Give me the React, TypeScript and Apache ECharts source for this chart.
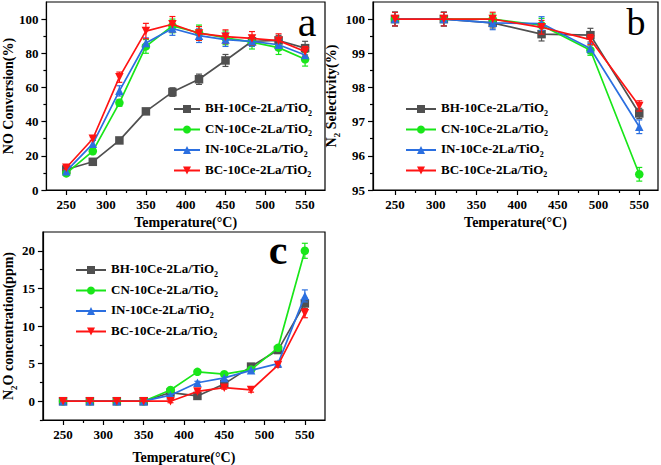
import React, { useEffect, useRef } from 'react';
import * as echarts from 'echarts';

// ---------------- data ----------------
const NAMES = ['BH-10Ce-2La/TiO2', 'CN-10Ce-2La/TiO2', 'IN-10Ce-2La/TiO2', 'BC-10Ce-2La/TiO2'];

const TEMP_AC = [250, 283.3, 316.7, 350, 383.3, 416.7, 450, 483.3, 516.7, 550];
const TEMP_B = [250, 310, 370, 430, 490, 550];
const TEMP_TICKS = [250, 300, 350, 400, 450, 500, 550];
const TEMP_MINOR = [275, 325, 375, 425, 475, 525];

// panel a: NO conversion (%)
const NO_BH = [12, 16.5, 29, 46, 57.3, 64.8, 75.8, 87, 87.5, 83];
const NO_CN = [9.7, 22.7, 51, 84, 96, 92, 89, 86.5, 83.3, 76.5];
const NO_IN = [11, 27, 58, 86, 94.5, 90.3, 88, 87, 85, 79];
const NO_BC = [13, 30, 66, 93, 97, 91.6, 89.7, 88.7, 87.4, 81];
const NO_BH_ERR = [1, 1, 1, 1.5, 2.5, 3, 3.5, 3, 3, 4];
const NO_CN_ERR = [1, 1.5, 2, 4, 4, 4.5, 4, 4, 4, 4];
const NO_IN_ERR = [1, 2, 3, 3, 4, 4, 4, 3, 3, 3];
const NO_BC_ERR = [1, 1, 3, 4.5, 4.5, 4, 4, 4, 4, 3];
const NO_TICKS = [0, 20, 40, 60, 80, 100];
const NO_MINOR = [10, 30, 50, 70, 90];

// panel b: N2 selectivity (%)
const SEL_BH = [100, 100, 99.89, 99.56, 99.53, 97.24];
const SEL_CN = [100, 100, 100, 99.82, 99.09, 95.46];
const SEL_IN = [100, 100, 99.89, 99.87, 99.14, 96.85];
const SEL_BC = [100, 100, 100, 99.76, 99.4, 97.46];
const SEL_BH_ERR = [0.2, 0.2, 0.15, 0.2, 0.2, 0.15];
const SEL_CN_ERR = [0.2, 0.2, 0.15, 0.2, 0.15, 0.2];
const SEL_IN_ERR = [0.2, 0.2, 0.2, 0.2, 0.15, 0.2];
const SEL_BC_ERR = [0.2, 0.2, 0.2, 0.2, 0.15, 0.15];
const SEL_TICKS = [95, 96, 97, 98, 99, 100];
const SEL_MINOR = [95.5, 96.5, 97.5, 98.5, 99.5];

// panel c: N2O concentration (ppm)
const N2O_BH = [0, 0, 0, 0, 1.15, 0.7, 2.3, 4.6, 6.8, 13];
const N2O_CN = [0, 0, 0, 0, 1.5, 3.9, 3.6, 4.2, 7.1, 20];
const N2O_IN = [0, 0, 0, 0, 0.8, 2.45, 3.1, 4.1, 5, 14];
const N2O_BC = [0, 0, 0, 0, 0, 1.3, 1.8, 1.5, 4.8, 11.7];
const N2O_BH_ERR = [0.1, 0.1, 0.1, 0.1, 0.2, 0.2, 0.2, 0.3, 0.3, 0.7];
const N2O_CN_ERR = [0.1, 0.1, 0.1, 0.1, 0.2, 0.2, 0.2, 0.3, 0.3, 1];
const N2O_IN_ERR = [0.1, 0.1, 0.1, 0.1, 0.2, 0.2, 0.2, 0.3, 0.3, 0.8];
const N2O_BC_ERR = [0.1, 0.1, 0.1, 0.1, 0.2, 0.2, 0.2, 0.3, 0.3, 0.6];
const N2O_TICKS = [0, 5, 10, 15, 20];
const N2O_MINOR = [-2.5, 2.5, 7.5, 12.5, 17.5];

// ---------------- styles ----------------
const COLORS = ['#505050', '#19e619', '#2b6fe0', '#ff1414'];
const SYMBOLS = ['rect', 'circle', 'triangle', 'triangle'];
const ROTATES = [0, 0, 0, 180];
const FONT = 'Liberation Serif';

function makeRich(size: number, sub: number, drop: number) {
  return {
    m: { fontFamily: FONT, fontWeight: 'bold', fontSize: size, color: '#000', padding: [0, 0, drop, 0], verticalAlign: 'bottom' },
    s: { fontFamily: FONT, fontWeight: 'bold', fontSize: sub, color: '#000', verticalAlign: 'bottom' },
  };
}

const labelStyle = { fontFamily: FONT, fontWeight: 'bold', fontSize: 13, color: '#000' };
const nameStyle = { fontFamily: FONT, fontWeight: 'bold', fontSize: 14, color: '#000', rich: makeRich(14, 9, 3) };

function xAxes(grid: number, min: number, max: number, nameGap: number) {
  return [
    {
      type: 'value', gridIndex: grid, min, max, position: 'bottom',
      name: 'Temperature(°C)', nameLocation: 'middle', nameGap, nameTextStyle: nameStyle,
      axisLine: { show: true, onZero: false, lineStyle: { color: '#000', width: 1.2 } },
      axisTick: { show: true, length: 5, customValues: TEMP_TICKS, lineStyle: { color: '#000', width: 1.2 } },
      axisLabel: { customValues: TEMP_TICKS, margin: 8, ...labelStyle },
      splitLine: { show: false },
    },
    {
      type: 'value', gridIndex: grid, min, max, position: 'bottom', offset: 0,
      axisLine: { show: false, onZero: false },
      axisTick: { show: true, length: 3, customValues: TEMP_MINOR, lineStyle: { color: '#000', width: 1.2 } },
      axisLabel: { show: false },
      splitLine: { show: false },
    },
  ];
}

function yAxes(grid: number, min: number, max: number, ticks: number[], minor: number[], name: string, nameGap: number) {
  return [
    {
      type: 'value', gridIndex: grid, min, max, position: 'left',
      name, nameLocation: 'middle', nameGap, nameTextStyle: nameStyle,
      axisLine: { show: true, onZero: false, lineStyle: { color: '#000', width: 1.2 } },
      axisTick: { show: true, length: 5, customValues: ticks, lineStyle: { color: '#000', width: 1.2 } },
      axisLabel: { customValues: ticks, margin: 8, ...labelStyle },
      splitLine: { show: false },
    },
    {
      type: 'value', gridIndex: grid, min, max, position: 'left', offset: 0,
      axisLine: { show: false, onZero: false },
      axisTick: { show: true, length: 3, customValues: minor, lineStyle: { color: '#000', width: 1.2 } },
      axisLabel: { show: false },
      splitLine: { show: false },
    },
  ];
}

function zip(xs: number[], ys: number[]) {
  return xs.map((x, i) => [x, ys[i]]);
}
function zip3(xs: number[], ys: number[], es: number[]) {
  return xs.map((x, i) => [x, ys[i], es[i]]);
}

function panelSeries(axisIdx: number, xs: number[], ys: number[][], errs: number[][]) {
  const out: any[] = [];
  ys.forEach((y, k) => {
    const color = COLORS[k];
    out.push({
      type: 'custom', name: NAMES[k] + ' err', xAxisIndex: axisIdx, yAxisIndex: axisIdx,
      data: zip3(xs, y, errs[k]), encode: { x: 0, y: 1 }, z: 2 + k,
      renderItem: (params: any, api: any) => {
        const x = api.value(0), v = api.value(1), e = api.value(2);
        const top = api.coord([x, v + e]);
        const bot = api.coord([x, v - e]);
        const w = 3;
        const st = { stroke: color, lineWidth: 1.2 };
        return {
          type: 'group', children: [
            { type: 'line', shape: { x1: top[0], y1: top[1], x2: bot[0], y2: bot[1] }, style: st },
            { type: 'line', shape: { x1: top[0] - w, y1: top[1], x2: top[0] + w, y2: top[1] }, style: st },
            { type: 'line', shape: { x1: bot[0] - w, y1: bot[1], x2: bot[0] + w, y2: bot[1] }, style: st },
          ],
        };
      },
    });
    out.push({
      type: 'line', name: NAMES[k], xAxisIndex: axisIdx, yAxisIndex: axisIdx,
      data: zip(xs, y), symbol: SYMBOLS[k], symbolRotate: ROTATES[k], symbolSize: 8.5, z: 3 + k,
      lineStyle: { color, width: 1.7 }, itemStyle: { color },
    });
  });
  return out;
}

function legend(left: number, top: number, itemWidth: number) {
  return {
    orient: 'vertical', left, top, itemWidth, itemHeight: 10, itemGap: 4.5, padding: 0,
    selectedMode: false, data: NAMES,
    formatter: (n: string) => `{m|${n.slice(0, -1)}}{s|2}`,
    textStyle: { fontFamily: FONT, fontWeight: 'bold', fontSize: 13, color: '#000', rich: makeRich(13, 8, 3) },
  };
}

export default function App() {
  const ref = useRef<HTMLDivElement>(null);
  useEffect(() => {
    if (!ref.current) return;
    const chart = echarts.init(ref.current, null, { renderer: 'svg' });
    const gridStyle = { show: true, borderColor: '#000', borderWidth: 1.2, containLabel: false };
    chart.setOption({
      animation: false,
      backgroundColor: '#fff',
      textStyle: { fontFamily: FONT },
      grid: [
        { left: 41, top: 2, width: 284, height: 188, ...gridStyle },
        { left: 373, top: 2, width: 285, height: 188, ...gridStyle },
        { left: 41, top: 232, width: 284, height: 189, ...gridStyle },
      ],
      xAxis: [
        ...xAxes(0, 225, 575, 25),
        ...xAxes(1, 223, 573, 25),
        ...xAxes(2, 225, 575, 30),
      ],
      yAxis: [
        ...yAxes(0, 0, 110, NO_TICKS, NO_MINOR, '{m|NO Conversion(%)}', 15),
        ...yAxes(1, 95, 100.5, SEL_TICKS, SEL_MINOR, '{m|N}{s|2}{m| Selectivity(%)}', 23),
        ...yAxes(2, -2.5, 22.5, N2O_TICKS, N2O_MINOR, '{m|N}{s|2}{m|O concentration(ppm)}', 17),
      ],
      legend: [legend(173, 101, 26), legend(405, 101, 30), legend(75, 262, 30)],
      graphic: [
        { type: 'text', style: { text: 'a', x: 307, y: 22, fontFamily: FONT, fontSize: 42, textAlign: 'center', textVerticalAlign: 'middle', fill: '#000' } },
        { type: 'text', style: { text: 'b', x: 636, y: 22, fontFamily: FONT, fontSize: 38, textAlign: 'center', textVerticalAlign: 'middle', fill: '#000' } },
        { type: 'text', style: { text: 'c', x: 278, y: 250, fontFamily: FONT, fontWeight: 'bold', fontSize: 42, textAlign: 'center', textVerticalAlign: 'middle', fill: '#000' } },
      ],
      series: [
        ...panelSeries(0, TEMP_AC, [NO_BH, NO_CN, NO_IN, NO_BC], [NO_BH_ERR, NO_CN_ERR, NO_IN_ERR, NO_BC_ERR]),
        ...panelSeries(2, TEMP_B, [SEL_BH, SEL_CN, SEL_IN, SEL_BC], [SEL_BH_ERR, SEL_CN_ERR, SEL_IN_ERR, SEL_BC_ERR]),
        ...panelSeries(4, TEMP_AC, [N2O_BH, N2O_CN, N2O_IN, N2O_BC], [N2O_BH_ERR, N2O_CN_ERR, N2O_IN_ERR, N2O_BC_ERR]),
      ],
    });
    return () => chart.dispose();
  }, []);
  return <div ref={ref} style={{ position: 'fixed', left: 0, top: 0, width: 661, height: 465 }} />;
}
